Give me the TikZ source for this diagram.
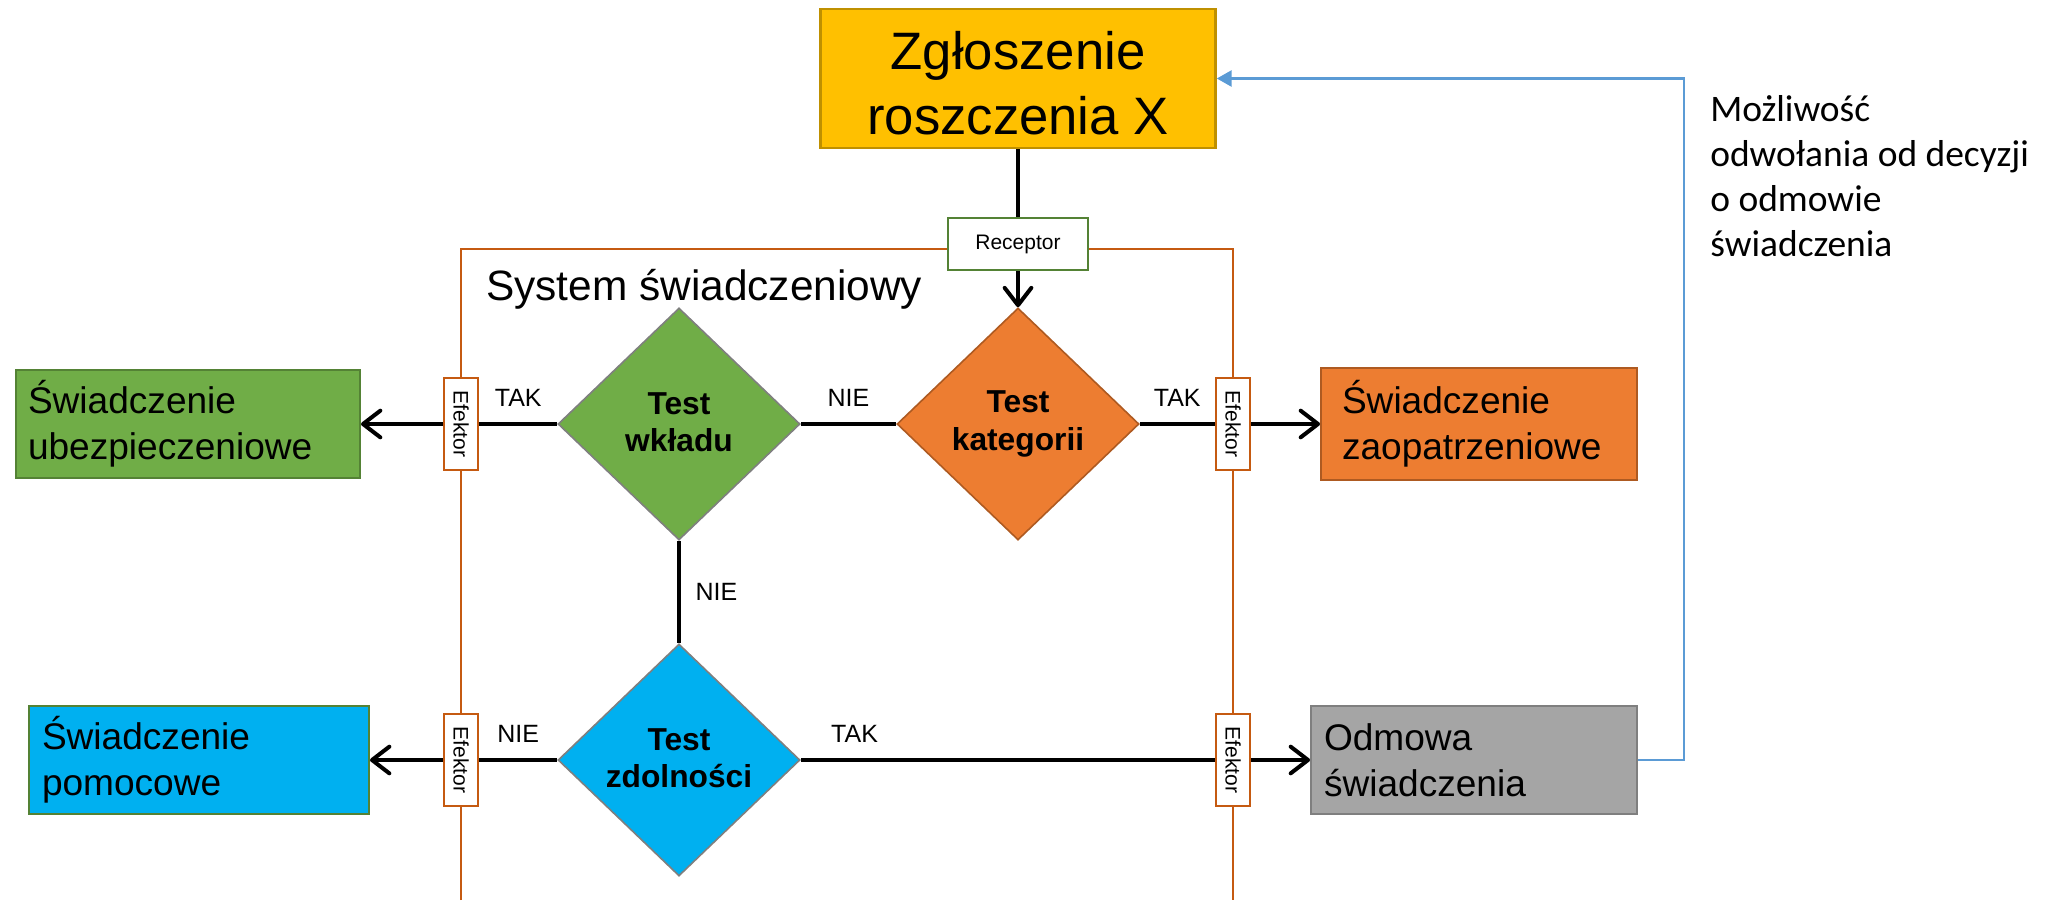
\documentclass[tikz,border=0pt]{standalone}
\usepackage{fontspec}
\setmainfont{Liberation Sans}
\newfontfamily\calibri{Carlito}
\usepackage{graphicx}
\usetikzlibrary{shapes.geometric,arrows.meta}
\definecolor{cgold}{HTML}{FFC000}
\definecolor{cgoldd}{HTML}{BF9000}
\definecolor{cgreen}{HTML}{70AD47}
\definecolor{cgreend}{HTML}{548235}
\definecolor{corange}{HTML}{ED7D31}
\definecolor{coranged}{HTML}{AE5A21}
\definecolor{cblue}{HTML}{00B0F0}
\definecolor{cgray}{HTML}{A5A5A5}
\definecolor{cgrayd}{HTML}{7F7F7F}
\definecolor{cbrown}{HTML}{C55A11}
\definecolor{clink}{HTML}{5B9BD5}
\begin{document}
\begin{tikzpicture}[x=0.75pt,y=-0.75pt,
  box/.style={draw, line width=1.5pt, align=left, inner ysep=0pt,
    minimum height=80.5pt, font=\fontsize{27.8pt}{34.5pt}\selectfont},
  dia/.style={diamond, draw, line width=1.2pt, inner sep=0pt,
    minimum width=181.5pt, minimum height=174pt, align=center,
    font=\bfseries\fontsize{23.8pt}{28pt}\selectfont},
  efk/.style={draw=cbrown, fill=white, line width=2pt, minimum width=25.5pt,
    minimum height=69pt, inner sep=0pt, font=\fontsize{15.75pt}{18pt}\selectfont},
  conn/.style={line width=3pt},
  arr/.style={line width=3pt, -{Straight Barb[length=13pt,width=20pt,round]}},
  lbl/.style={font=\fontsize{18.75pt}{22pt}\selectfont, inner sep=0pt},
  sysline/.style={draw=cbrown, line width=1.8pt},
  fbline/.style={draw=clink, line width=1.6pt, -{Triangle[length=11pt,width=12pt]}}
]
\useasboundingbox (0,0) rectangle (2054,900);

% system boundary
\draw[sysline] (461,900) -- (461,249) -- (1233,249) -- (1233,900);

% nodes
\node[draw=cgoldd, fill=cgold, line width=2pt, minimum width=296.25pt,
  minimum height=104.25pt, align=center, inner sep=0pt,
  font=\fontsize{39.5pt}{48.75pt}\selectfont] (claim) at (1018,78.5)
  {\rule{0pt}{36pt}Zgłoszenie\\roszczenia X};

\node[draw=cgreend, fill=white, line width=1.5pt, minimum width=105pt,
  minimum height=39pt, inner sep=0pt,
  font=\fontsize{15.75pt}{18pt}\selectfont] (rec) at (1018,244) {Receptor};

\node[anchor=base west, inner sep=0pt, font=\fontsize{31.8pt}{38pt}\selectfont]
  (sys) at (486,300) {System świadczeniowy};

\node[dia, fill=cgreen, draw=cgrayd] (wkl) at (679,424) {Test\\wkładu\rule[-3pt]{0pt}{1pt}};
\node[dia, fill=corange, draw=coranged] (kat) at (1018,424) {Test\\kategorii};
\node[dia, fill=cblue, draw=cgrayd] (zdl) at (679,760) {Test\\zdolności\rule[-3pt]{0pt}{1pt}};

\node[efk] (ef1) at (461,424) {\rotatebox{-90}{Efektor}};
\node[efk] (ef2) at (1233,424) {\rotatebox{-90}{Efektor}};
\node[efk] (ef3) at (461,760) {\rotatebox{-90}{Efektor}};
\node[efk] (ef4) at (1233,760) {\rotatebox{-90}{Efektor}};

\node[box, fill=cgreen, draw=cgreend, text width=240pt, inner xsep=9pt]
  (ubez) at (188,424) {Świadczenie\\ubezpieczeniowe};
\node[box, fill=corange, draw=coranged, text width=205.5pt, inner xsep=15.75pt,
  minimum height=84pt] (zaop) at (1479,424) {Świadczenie\\zaopatrzeniowe};
\node[box, fill=cblue, draw=cgreend, text width=235.5pt, inner xsep=9.75pt]
  (pomo) at (199,760) {Świadczenie\\pomocowe};
\node[box, fill=cgray, draw=cgrayd, text width=225pt, inner xsep=9.75pt]
  (odm) at (1474,760) {Odmowa\\świadczenia};

\node[anchor=north west, inner sep=0pt, align=left,
  font=\calibri\fontsize{28.1pt}{33.75pt}\selectfont] (note) at (1710,87.4)
  {\rule{0pt}{25pt}Możliwość\\odwołania od decyzji\\o odmowie\\świadczenia};

% connectors
\draw[conn] (claim.south) -- (rec.north);
\draw[arr] (rec.south) -- (kat.north);
\draw[conn] (kat.west) -- node[lbl, above=12pt] {NIE} (wkl.east);
\draw[conn] (wkl.west) -- node[lbl, above=12pt] {TAK} (ef1.east);
\draw[arr] (ef1.west) -- (ubez.east);
\draw[conn] (kat.east) -- node[lbl, above=12pt] {TAK} (ef2.west);
\draw[arr] (ef2.east) -- (zaop.west);
\draw[conn] (wkl.south) -- node[lbl, right=11pt] {NIE} (zdl.north);
\draw[conn] (zdl.west) -- node[lbl, above=12pt] {NIE} (ef3.east);
\draw[arr] (ef3.west) -- (pomo.east);
\draw[conn] (zdl.east) -- node[lbl, pos=0.13, above=12pt] {TAK} (ef4.west);
\draw[arr] (ef4.east) -- (odm.west);

\coordinate (fb) at (1684,78.5);
\draw[fbline] (odm.east) -| (fb) |- (claim.east);
\end{tikzpicture}
\end{document}
